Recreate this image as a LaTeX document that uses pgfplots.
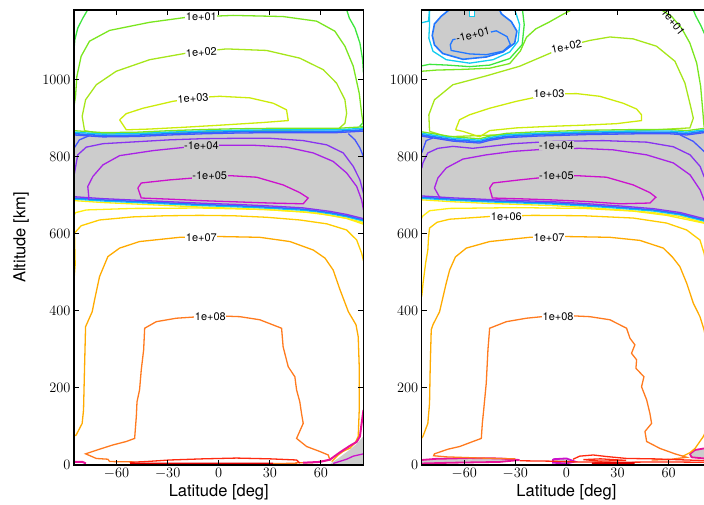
\documentclass[border=0pt]{standalone}
\usepackage{fontspec}
\setsansfont{TeX Gyre Heros}
\usepackage{pgfplots}
\usepackage{pgfplotstable}
\pgfplotsset{compat=1.18}

% contour level colours
\definecolor{cg0}{HTML}{3DE63D}
\definecolor{cg1}{HTML}{7AE61E}
\definecolor{cg2}{HTML}{A6E61A}
\definecolor{cg3}{HTML}{CCEB0A}
\definecolor{cy5}{HTML}{FFEE11}
\definecolor{cy6}{HTML}{FFCC00}
\definecolor{co7}{HTML}{FFAA00}
\definecolor{co8}{HTML}{FF7A1F}
\definecolor{cr9}{HTML}{FF2A10}
\definecolor{crd}{HTML}{E00000}
\definecolor{cn0}{HTML}{11CCEE}
\definecolor{cn1}{HTML}{2277FF}
\definecolor{cn2}{HTML}{4455FF}
\definecolor{cn3}{HTML}{8833F0}
\definecolor{cn4}{HTML}{A922E6}
\definecolor{cn5}{HTML}{CC11CC}
\definecolor{cn6}{HTML}{E81299}
\definecolor{band}{HTML}{CCCCCC}

\tikzset{clab/.style={font=\sffamily\fontsize{11}{12}\selectfont, inner sep=0.6pt, fill=white}}

\pgfplotsset{
  panel/.style={
    scale only axis, width=289.5pt, height=455pt,
    xmin=-85, xmax=85, ymin=0, ymax=1181,
    xtick={-60,-30,0,30,60}, ytick={0,200,400,600,800,1000},
    tick align=inside, major tick length=5pt,
    axis line style={line width=1.2pt},
    tick style={line width=0.9pt, black},
    tick label style={font=\fontsize{15.5}{18}\selectfont},
    /pgf/number format/1000 sep={},
    xlabel={Latitude [deg]},
    xlabel style={font=\sffamily\fontsize{16.5}{19}\selectfont,
      at={(axis description cs:0.5,-0.0603)}, anchor=center},
    axis on top,
    every axis plot/.append style={line width=1.3pt},
  }
}

% edges of the negative band (left and right runs)
\pgfplotstableread{
x y
-85 860
-68 855
-48.4 856
-28.8 860
-9.2 863
10.4 865
30 866
49.6 866
69.2 866
85 870
}\topL
\pgfplotstableread{
x y
-85 693
-68 688
-48.4 684
-28.8 680
-9.2 676
10.4 673
30 669
49.6 664
65.3 655
75.1 647
85 636
}\botL
\pgfplotstableread{
x y
-85 857
-76.5 851
-66.7 844
-51 839
-45.1 846
-35.3 853
-17.6 857
11.8 861
41.2 863
60.8 863
70.6 860
80.8 866
85 868
}\topR
\pgfplotstableread{
x y
-85 695
-66.7 690
-47.1 686
-27.5 683
-7.9 680
11.8 675
31.4 669
51 662
66.7 652
80.8 636
85 628
}\botR

\begin{document}
\begin{tikzpicture}
\path[use as bounding box] (0pt,0pt) rectangle (704pt,504pt);

% ---------------- left run ----------------
\begin{axis}[panel, at={(74pt,39pt)}, anchor=south west,
  ylabel={Altitude [km]},
  ylabel style={font=\sffamily\fontsize{16.5}{19}\selectfont,
    at={(axis description cs:-0.183,0.5)}, anchor=center}]
% negative regions
\addplot[fill=band, draw=none] coordinates {(-85,860)(-68,855)(-48.4,856)(-28.8,860)(-9.2,863)(10.4,865)(30,866)(49.6,866)(69.2,866)(85,870)(85,636)(75.1,647)(65.3,655)(49.6,664)(30,669)(10.4,673)(-9.2,676)(-28.8,680)(-48.4,684)(-68,688)(-85,693)};
\addplot[fill=band, draw=none] coordinates {(65,0)(66,5)(71,20)(77,40)(81,55)(85,75)(85,0)};
% upper positive levels
\addplot[cg0] coordinates {(-76.9,1182)(-79.8,1160)(-82.8,1134)(-84.5,1104)(-85,1078)};
\addplot[cg0] coordinates {(75.1,1182)(76.7,1160)(80,1134)(82.9,1095)(84.5,1052)(85,1017)};
\addplot[cg0] coordinates {(85,890)(83,880)(85,872)};
\addplot[cg1] coordinates {(-85,930)(-84.1,957)(-83.3,1009)(-80.8,1061)(-75.9,1100)(-64.1,1128)(-40.6,1149)(-19,1162)(8.4,1167)(37.8,1164)(57.5,1152)(68.2,1126)(74.1,1087)(79,1035)(82.5,965)(83.9,913)(85,879)};
\addplot[cg2] coordinates {(-78.8,868)(-80.2,905)(-78.2,948)(-71.9,987)(-60.2,1022)(-40.6,1052)(-19,1069)(4.5,1080)(28.1,1076)(47.6,1056)(61.4,1026)(69.2,991)(74.1,948)(75.1,913)(74.1,887)(70.2,872)(40,869)(0,867)(-40,862)(-70,860)(-78.8,868)};
\addplot[cg3] coordinates {(-58.2,896)(-54.3,912)(-44.5,926)(-26.9,944)(-11.2,954)(0.6,957)(18.2,953)(32,939)(39.8,922)(40.8,894)(26.1,889)(0.6,882)(-19,877)(-40.6,872)(-54.3,870)(-58.2,896)};
% band edges
\addplot[cg1, yshift=3pt] table {\topL};
\addplot[cn0, line width=1.4pt, yshift=1.5pt] table {\topL};
\addplot[cn1, line width=1.6pt] table {\topL};
\addplot[cn2, yshift=-1.3pt] table {\topL};
\addplot[cy5, yshift=-2.6pt] table {\botL};
\addplot[cn0, yshift=-1.1pt] table {\botL};
\addplot[cn1, line width=1.5pt] table {\botL};
\addplot[cn3, yshift=1.3pt] table {\botL};
% negative levels
\addplot[cn2] coordinates {(76.1,860)(80,844)(82.9,823)(84.9,801)(85,795)};
\addplot[cn2] coordinates {(-85,822)(-81.8,844)(-75.9,855)};
\addplot[cn3] coordinates {(-85,750)(-84.7,758)(-82.8,805)(-77.8,825)(-68,834)(-48.4,839)(-28.8,844)(-9.2,847)(10.4,848)(30,848)(49.6,842)(63.4,831)(73.1,810)(79,775)(82.9,740)(85,705)};
\addplot[cn4] coordinates {(-76.3,688)(-76.3,695)(-76.9,723)(-73.9,749)(-68,779)(-58.2,803)(-38.6,816)(-19,825)(0.6,830)(20.2,830)(39.8,825)(55.5,810)(67.2,788)(75.1,758)(81,723)(83.9,688)(85,662)};
\addplot[cn5] coordinates {(-47.5,719)(-45.5,732)(-28.8,740)(-9.2,747)(6.5,751)(22.2,747)(37.8,727)(47.6,707)(52.5,693)(49.6,678)(30,680)(10.4,683)(-9.2,686)(-28.8,690)(-45.5,693)(-47.5,719)};
% lower positive levels
\addplot[cy5] coordinates {(-85,648)(-84.1,655)(-77.8,662)(-50.4,666)(-11.2,667)(28.1,663)(57.5,654)(75.1,640)(85,625)};
\addplot[cy6] coordinates {(-85,480)(-84.3,520)(-84.5,560)(-84.7,602)(-80.8,621)(-70,636)(-50.4,644)(-30.8,647)(-11.2,648)(8.4,647)(28.1,643)(47.6,636)(63.4,626)(75.1,610)(81,584)(83.9,550)(85,530)};
\addplot[co7] coordinates {(-85,75)(-83.7,78)(-80.2,108)(-79.4,143)(-78.8,255)(-78.2,359)(-74.3,398)(-72.9,429)(-70,489)(-65.1,541)(-58.2,563)(-46.5,580)(-22.9,591)(0.6,593)(24.1,591)(41.8,580)(55.5,558)(62.4,537)(67.2,506)(71.2,455)(76.1,398)(80.6,364)(81.9,333)(82.5,255)(82.5,143)(81.9,74)(80,57)(77.1,44)(72.9,35)(70.2,26)(66.3,9)};
\addplot[co8] coordinates {(45,6)(55,6)(65.3,13)(64.3,26)(59.4,35)(51.6,48)(45.7,69)(49.6,108)(48.6,134)(47.6,164)(45.7,195)(44.7,229)(40.8,255)(37.8,307)(36.9,355)(24.1,377)(12.4,385)(0.6,387)(-11.2,385)(-24.9,381)(-36.7,372)(-43.5,355)(-44.1,299)(-45.5,247)(-46.5,195)(-48,164)(-48.4,126)(-49.4,69)(-54.3,61)(-62.2,52)(-70,41)(-78.2,29)(-71.9,17)(-65.1,15)(-64.1,9)(-50,8)};
\addplot[cr9] coordinates {(-52,7)(-42.5,9)(-28.8,13)(-9.2,16)(10.4,18)(30,16)(45.7,13)(47.6,5)};
\addplot[crd, line width=2.2pt] coordinates {(-52,3)(-20,3)(10,3.5)(32,3.5)};
\addplot[co8, line width=1.6pt] coordinates {(32,3.5)(46,4)};
\addplot[cn6, line width=2pt] coordinates {(-85,8)(-80,8)(-78,4)};
\addplot[cn6, line width=2pt] coordinates {(49.6,6)(59.4,8)(65.3,14)(71.2,33)(77.1,50)(81,60)(82.9,74)(83.9,108)(85,143)};
\addplot[cn5] coordinates {(67.2,4)(75.1,15)(79,23)(82,26)(85,29)};
% level labels
\node[clab] at (axis cs:-10.2,1164) {1e+01};
\node[clab, rotate=4] at (axis cs:-10.2,1071) {1e+02};
\node[clab, rotate=4] at (axis cs:-15.1,952) {1e+03};
\node[clab, fill=band] at (axis cs:-10.2,829) {-1e+04};
\node[clab, fill=band] at (axis cs:-5.3,751) {-1e+05};
\node[clab] at (axis cs:-10.2,591) {1e+07};
\node[clab] at (axis cs:-4.9,385) {1e+08};
\end{axis}

% ---------------- right run ----------------
\begin{axis}[panel, at={(421.7pt,39pt)}, anchor=south west]
% negative regions
\addplot[fill=band, draw=none] coordinates {(-85,857)(-76.5,851)(-66.7,844)(-51,839)(-45.1,846)(-35.3,853)(-17.6,857)(11.8,861)(41.2,863)(60.8,863)(70.6,860)(80.8,866)(85,868)(85,628)(80.8,636)(66.7,652)(51,662)(31.4,669)(11.8,675)(-7.9,680)(-27.5,683)(-47.1,686)(-66.7,690)(-85,695)};
\addplot[fill=band, draw=none] coordinates {(-69,1181)(-73.5,1165)(-77.5,1145)(-78.8,1115)(-77.5,1090)(-72.6,1068)(-60.8,1053)(-47.1,1059)(-37.3,1072)(-30.4,1095)(-29.1,1126)(-32.4,1151)(-38.2,1171)(-39.2,1181)};
\addplot[fill=white, draw=cn0] coordinates {(-57,1181)(-57,1165)(-54,1165)(-54,1181)};
\addplot[fill=band, draw=cn6, line width=1.8pt] coordinates {(-85,13)(-76.5,16)(-56.9,18)(-39.2,17)(-27.5,13)(-39.2,8)(-66.7,6)(-85,4)};
\addplot[fill=band, draw=cn5, line width=1.8pt] coordinates {(-7.9,15)(0,17)(4.9,9)(0,4)(-7.9,6)(-7.9,15)};
\addplot[fill=band, draw=cn6, line width=1.8pt] coordinates {(72.5,29)(75.5,39)(80.8,43)(85,44)(85,17)(80.8,17)(73.5,20)(72.5,29)};
% region around the upper negative cell
\addplot[cn0] coordinates {(-85,1148)(-81,1152)(-80.4,1181)};
\addplot[cn0] coordinates {(-80.4,1181)(-80.4,1143)(-80.8,1108)(-78.4,1074)(-70.6,1052)(-56.9,1043)(-43.1,1052)(-33.3,1072)(-28.4,1100)(-27.5,1143)(-29.4,1169)(-30.4,1181)};
\addplot[cn1, line width=1.6pt] coordinates {(-69,1181)(-73.5,1165)(-77.5,1145)(-78.8,1115)(-77.5,1090)(-72.6,1068)(-60.8,1053)(-47.1,1059)(-37.3,1072)(-30.4,1095)(-29.1,1126)(-32.4,1151)(-38.2,1171)(-39.2,1181)};
\addplot[cn1] coordinates {(-66.7,1104)(-60.8,1110)(-51,1117)(-41.2,1127)(-34.9,1112)(-32.9,1091)(-37.3,1074)(-47.1,1065)(-56.9,1067)(-67.7,1076)(-68.2,1091)(-66.7,1104)};
% upper positive levels
\addplot[cg0] coordinates {(-85,1036)(-80.4,1040)(-70,1038)(-56.9,1034)(-45,1038)(-33.3,1055)(-26,1091)(-24.8,1143)(-25.8,1181)};
\addplot[cg0] coordinates {(74.5,1181)(76,1165)(79,1140)(82,1110)(85,1090)};
\addplot[cg1] coordinates {(-85,1022)(-76.5,1025)(-60,1027)(-45,1030)(-33.3,1042)(-27,1075)(-23.5,1110)(-18,1132)(-10,1150)(-2,1170)(2.9,1181)};
\addplot[cg1] coordinates {(55.9,1181)(61.8,1164)(67.6,1134)(72.5,1095)(76.5,1043)(78.8,983)(80,922)(80.8,879)(82,868)};
\addplot[cg2] coordinates {(-80.4,866)(-80.8,909)(-77.5,948)(-66.7,987)(-47.1,1010)(-27.5,1035)(-7.9,1072)(0,1087)(13.7,1102)(25.5,1111)(39.2,1106)(52.9,1087)(63.7,1048)(69.6,991)(72.9,931)(74.5,900)(72.5,875)(40,867)(0,863)(-40,857)(-70,852)(-80.4,866)};
\addplot[cg3] coordinates {(-65.1,870)(-62.8,896)(-56.9,909)(-45.1,926)(-29.4,944)(-17.6,955)(-5.9,963)(5.9,964)(19.6,957)(33.3,939)(41.2,924)(44.1,909)(44.1,894)(29.4,886)(9.8,882)(-9.8,879)(-29.4,875)(-45.1,868)(-51,852)(-60.8,866)(-65.1,870)};
% band edges
\addplot[cg1, yshift=3pt] table {\topR};
\addplot[cn0, line width=1.4pt, yshift=1.5pt] table {\topR};
\addplot[cn1, line width=1.6pt] table {\topR};
\addplot[cn2, yshift=-1.3pt] table {\topR};
\addplot[cy5, yshift=-2.6pt] table {\botR};
\addplot[cn0, yshift=-1.1pt] table {\botR};
\addplot[cn1, line width=1.5pt] table {\botR};
\addplot[cn3, yshift=1.3pt] table {\botR};
% negative levels
\addplot[cn2] coordinates {(-85,810)(-82.4,842)(-78.4,849)};
\addplot[cn2] coordinates {(66.7,857)(74.5,840)(80.8,814)(85,795)};
\addplot[cn3] coordinates {(-85,770)(-84.3,784)(-81.4,810)(-75.5,822)(-66.7,827)(-55,822)(-47.1,826)(-31.4,834)(-7.9,840)(21.6,842)(47.1,838)(62.8,826)(72.6,805)(78.5,775)(80.8,749)(85,720)};
\addplot[cn4] coordinates {(-74.5,690)(-74.5,695)(-77.5,719)(-75.5,745)(-70.6,771)(-60.8,794)(-47.1,805)(-31.4,814)(-11.8,820)(7.8,822)(27.5,818)(47.1,805)(62.8,784)(72.6,753)(78.5,714)(80.8,688)(85,672)};
\addplot[cn5] coordinates {(-45.1,719)(-43.1,732)(-27.5,740)(-7.9,749)(5.9,751)(23.5,747)(39.2,727)(49,707)(52.5,695)(49,680)(31.4,678)(11.8,684)(-7.9,688)(-27.5,691)(-43.5,693)(-45.1,719)};
% lower positive levels
\addplot[cy5] coordinates {(-85,640)(-84.7,645)(-80.4,660)(-68.6,666)(-29.4,668)(9.8,666)(39.2,659)(58.8,648)(80.4,628)(85,620)};
\addplot[cy6] coordinates {(-85,437)(-84.2,472)(-82.7,524)(-81.4,558)(-81,590)(-80.4,615)(-76,630)(-68.6,638)(-45.1,645)(-19.6,648)(9.8,647)(39.2,641)(58.8,628)(70.6,610)(78.4,584)(80.8,550)(82,520)};
\addplot[co7] coordinates {(-85,70)(-84.3,74)(-81.4,108)(-80.4,160)(-80,255)(-79.4,351)(-78.4,364)(-74.5,398)(-70.6,472)(-68.6,506)(-65.2,540)(-58.8,563)(-45.1,580)(-21.6,591)(0,593)(25.5,591)(43.1,583)(56.9,563)(62.2,540)(66.6,515)(70.6,472)(74.5,420)(78.4,385)(80.8,351)(83,300)(83,120)(81.5,85)(80.4,74)(75.5,43)(72.5,32)(68,22)};
\addplot[co8] coordinates {(-30,16)(-50,18)(-70,21)(-78,24)(-77.5,29)(-69.6,41)(-62.7,48)(-54.9,61)(-50,69)(-49.4,108)(-48.6,143)(-47.1,212)(-46.1,299)(-45.1,355)(-35.3,372)(-23.5,381)(-9.8,387)(0,388)(13.7,385)(25.5,377)(35.3,355)(37.3,329)(40.2,312)(38.2,290)(41.2,273)(40.8,251)(45.5,229)(44.1,203)(47.1,169)(49,134)(50,108)(46.1,87)(47.1,61)(54.9,43)(63.7,29)(70.6,20)(60,14)(50,13)};
\addplot[cr9] coordinates {(3.9,15)(7.8,23)(15.7,26)(23.5,22)(35.3,17)(51,16)(70.6,13)(85,11)};
\addplot[cr9] coordinates {(10,14)(20,16)(35,12)(20,10)(10,14)};
\addplot[cr9] coordinates {(-27.5,11)(-10,10)(5,8)(30,7)(55,8)(85,7)};
\addplot[crd, line width=2.2pt] coordinates {(15,4)(40,5)};
% level labels
\node[clab, fill=band, rotate=14] at (axis cs:-54.9,1117) {-1e+01};
\node[clab, fill=none, rotate=-52] at (axis cs:62.7,1150) {1e+01};
\node[clab, rotate=12] at (axis cs:0,1086) {1e+02};
\node[clab] at (axis cs:-10.2,964) {1e+03};
\node[clab, fill=band] at (axis cs:-5.9,829) {-1e+04};
\node[clab, fill=band] at (axis cs:-5.9,751) {-1e+05};
\node[clab] at (axis cs:-35.3,645) {1e+06};
\node[clab] at (axis cs:-10.2,591) {1e+07};
\node[clab] at (axis cs:-4.9,385) {1e+08};
\end{axis}
\end{tikzpicture}
\end{document}
